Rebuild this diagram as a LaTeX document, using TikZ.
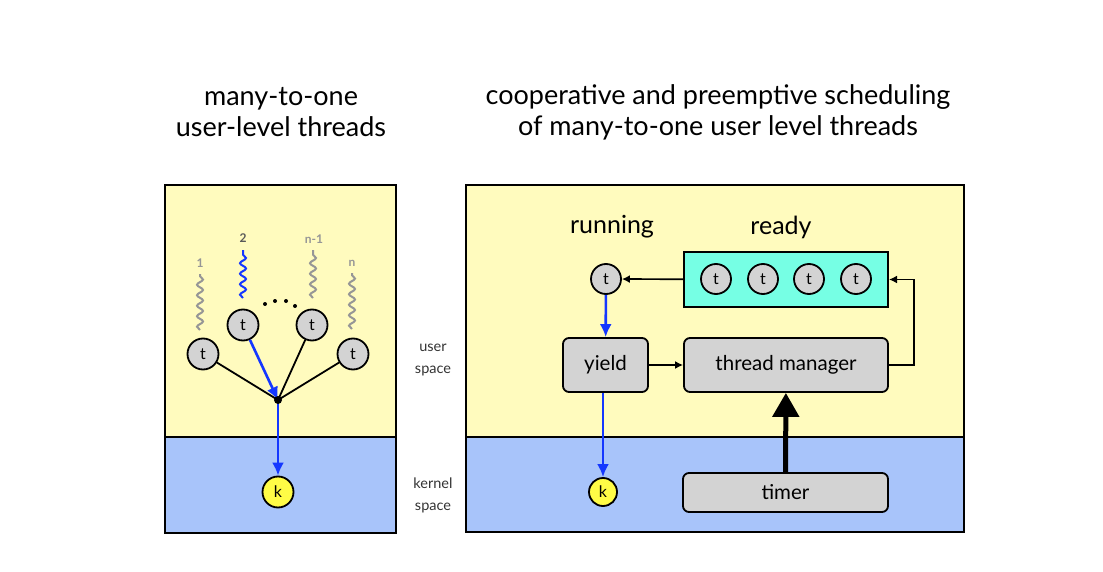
\documentclass[tikz,border=0pt]{standalone}
\usepackage{fontspec}
\setmainfont{Lato}
\usetikzlibrary{arrows.meta, positioning, decorations.pathmorphing}

\definecolor{userbg}{RGB}{255,251,190}
\definecolor{kernbg}{RGB}{168,196,250}
\definecolor{thgray}{RGB}{211,211,211}
\definecolor{kyellow}{RGB}{255,252,70}
\definecolor{readycyan}{RGB}{118,255,228}
\definecolor{runblue}{RGB}{20,55,255}
\definecolor{wavegray}{RGB}{150,150,150}

\begin{document}
\begin{tikzpicture}[x=1pt,y=-1pt]

    \tikzset
    {
        thr/.style={circle, draw, line width=1.8pt, fill=thgray, minimum size=31pt, inner sep=0pt, font={\fontsize{16}{16}\selectfont}},
        smallthr/.style={thr, minimum size=30pt},
        kern/.style={thr, fill=kyellow, minimum size=31pt},
        box/.style={draw, line width=1.8pt, rounded corners=6pt, fill=thgray, font={\fontsize{20.5}{20.5}\selectfont}},
        wave/.style={decorate, decoration={snake, segment length=10.5pt, amplitude=3pt}, line width=2pt},
        title/.style={align=center, font={\fontsize{27}{31}\selectfont}},
        side/.style={align=center, font={\fontsize{14.5}{22}\selectfont}, text=black!80},
        numlabel/.style={text=wavegray, font={\bfseries\fontsize{12}{12}\selectfont}},
        blue arrow/.style={draw=runblue, line width=2.6pt, -{Latex[length=13pt, width=12pt]}},
        flow/.style={line width=1.7pt, -{Latex[length=8pt, width=8pt]}}
    }

    \useasboundingbox (0,0) rectangle (1103,572);

    % titles
    \node[title] (ltitle) at (281,112) {many-to-one\\user-level threads};
    \node[title] (rtitle) at (718,112) {cooperative and preemptive scheduling\\of many-to-one user level threads};

    % panels
    \fill[userbg] (165,185) rectangle (396,437);
    \fill[kernbg] (165,437) rectangle (396,533);
    \draw[line width=2pt] (165,437) -- (396,437);
    \draw[line width=2pt] (165,185) rectangle (396,533);

    \fill[userbg] (466,185) rectangle (964,437);
    \fill[kernbg] (466,437) rectangle (964,532);
    \draw[line width=2pt] (466,437) -- (964,437);
    \draw[line width=2pt] (466,185) rectangle (964,532);

    \node[side] (uspace) at (433,360) {user\\space};
    \node[side] (kspace) at (433,495) {kernel\\space};

    % many-to-one
    \node[thr] (t1) at (203,354) {t};
    \node[thr] (t2) at (243,325) {t};
    \node[thr] (t3) at (312,325) {t};
    \node[thr] (t4) at (353,354) {t};
    \node[kern] (k1) at (278,492) {k};
    \coordinate (join) at (278,400);

    \draw[wave, wavegray] (200,330) -- (200,274);
    \draw[wave, runblue] (243,298) -- (243,250);
    \draw[wave, wavegray] (313,298) -- (313,250);
    \draw[wave, wavegray] (352,329) -- (352,273);
    \node[numlabel] (n1) at (200,263) {1};
    \node[numlabel, text=black!65] (n2) at (243,238) {2};
    \node[numlabel] (n3) at (314,239) {n-1};
    \node[numlabel] (n4) at (352,263) {n};
    \foreach \x/\y in {265/304, 275/301, 286/301, 295/306}
        \fill (\x,\y) circle (2pt);

    \draw[line width=1.8pt] (t1) -- (join);
    \draw[line width=1.8pt] (t3) -- (join);
    \draw[line width=1.8pt] (t4) -- (join);
    \draw[blue arrow] (t2) -- (join);
    \draw[blue arrow] (join) -- (k1);
    \fill (join) circle (4pt);

    % scheduling
    \node[font={\fontsize{25}{25}\selectfont}] (running) at (612,227) {running};
    \node[font={\fontsize{25}{25}\selectfont}] (readylbl) at (781,227) {ready};

    \node[draw, line width=2pt, fill=readycyan, minimum width=204pt, minimum height=55pt] (ready) at (786,279.5) {};
    \foreach \i/\x in {1/716, 2/763, 3/809, 4/856}
        \node[smallthr] (r\i) at (\x,279) {t};
    \node[smallthr] (run) at (606,279) {t};

    \node[box, minimum width=85pt, minimum height=54pt] (yield) at (605.5,365) {yield};
    \node[box, minimum width=204pt, minimum height=54pt] (tm) at (786,365) {thread manager};
    \node[box, minimum width=205pt, minimum height=39pt] (timer) at (785.5,492.5) {timer};
    \node[kern, minimum size=28pt] (k2) at (603,492) {k};

    \draw[flow] (ready) -- (run);
    \draw[blue arrow] (run) -- (yield);
    \draw[blue arrow] (yield.south -| k2) -- (k2);
    \draw[flow] (yield) -- (tm);
    \draw[flow] (tm.east) -- ++(25,0) |- (ready.east);
    \draw[line width=5pt, -{Triangle[length=24pt, width=26pt]}] (timer) -- (tm);

\end{tikzpicture}
\end{document}
